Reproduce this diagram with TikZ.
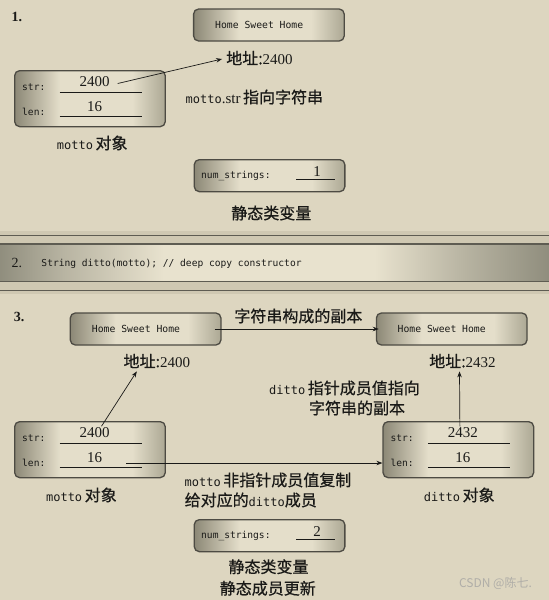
\documentclass[tikz,border=0pt]{standalone}
\usepackage{fontspec}
\setmainfont{Liberation Serif}
\setmonofont{DejaVu Sans Mono}
\newfontfamily\cjk[FakeBold=0.6]{Noto Sans CJK SC}
\newfontfamily\wmfont{Noto Sans CJK SC}
\usetikzlibrary{arrows.meta}
\definecolor{bg}{HTML}{DDD6C0}
\definecolor{strip}{HTML}{CFC8B2}
\definecolor{ink}{HTML}{1A1A18}
\definecolor{bxline}{HTML}{4D4B43}
\definecolor{bxdark}{HTML}{8C8876}
\definecolor{bxlight}{HTML}{E4DECA}
\definecolor{bxmid}{HTML}{ACA894}
\definecolor{bdark}{HTML}{8E8C7C}
\definecolor{bmid}{HTML}{B8B4A2}
\definecolor{blight}{HTML}{E8E2CE}
\definecolor{bandline}{HTML}{5E5C52}
\definecolor{wm}{HTML}{B0AEA8}
\pgfdeclarehorizontalshading{boxshade}{100bp}{color(0bp)=(bxdark); color(25bp)=(bxdark); color(40bp)=(bxlight); color(64bp)=(bxlight); color(75bp)=(bxmid); color(100bp)=(bxmid)}
\pgfdeclarehorizontalshading{bandshade}{100bp}{color(0bp)=(bdark); color(25bp)=(bdark); color(31bp)=(bmid); color(40bp)=(blight); color(59bp)=(blight); color(67bp)=(bmid); color(75bp)=(bdark); color(100bp)=(bdark)}
\newcommand\zh{\fontsize{16}{19}\selectfont\cjk}
\newcommand\tw{\fontsize{12}{14}\selectfont\ttfamily}
\newcommand\nm{\fontsize{15}{17}\selectfont\rmfamily}
\tikzset{
  objbox/.style={draw=bxline, line width=1.3pt, rounded corners=5pt, shade, shading=boxshade, inner sep=0pt, minimum width=150.6pt},
  mono/.style={font=\fontsize{9.6}{11}\selectfont\ttfamily, text=ink, inner sep=0pt},
  num/.style={font=\nm, text=ink, inner sep=0pt},
  txt/.style={text=ink, inner sep=0pt},
  rulel/.style={draw=ink, line width=1pt},
  arr/.style={draw=ink, line width=0.7pt, -{Stealth[length=6pt,width=4.5pt]}},
}
\newcommand\ObjBox[5]{%
  \begin{scope}[shift={(#2,#3)}]
    \node[objbox, minimum height=56pt, anchor=north west] (#1) at (0,0) {};
    \node[mono, anchor=west] (#1sl) at (8,17) {str:};
    \node[mono, anchor=west] (#1ll) at (8,42) {len:};
    \draw[rulel] (45.5,22) -- (128,22);
    \draw[rulel] (45.5,46.5) -- (128,46.5);
    \node[num] (#1s) at (80.5,11.5) {#4};
    \node[num] (#1l) at (80.5,37) {#5};
  \end{scope}}
\newcommand\NumBox[4]{%
  \begin{scope}[shift={(#2,#3)}]
    \node[objbox, minimum height=32pt, anchor=north west] (#1) at (0,0) {};
    \node[mono, anchor=west] (#1lab) at (7.4,17) {num\_strings:};
    \draw[rulel] (102.4,20) -- (141.8,20);
    \node[num] (#1v) at (123.4,12.5) {#4};
  \end{scope}}
\begin{document}
\begin{tikzpicture}[x=1pt,y=-1pt]
\useasboundingbox (0,0) rectangle (549,600);
\fill[bg] (0,0) rectangle (549,600);

% ---- part 1
\node[txt, font=\fontsize{14}{16}\selectfont\bfseries] (p1) at (17,17) {1.};
\node[objbox, minimum height=32pt] (hsh1) at (268.9,25) {};
\node[mono, font=\fontsize{9.75}{11}\selectfont\ttfamily] (hsh1t) at ([xshift=-9.7pt]hsh1.center) {Home Sweet Home};
\node[txt] (addr1) at (259.5,58) {{\zh 地址:}{\nm 2400}};
\ObjBox{mA}{14}{70}{2400}{16}
\node[txt] (desc1) at (254.4,97) {{\tw motto}{\nm .str} {\zh 指向字符串}};
\node[txt] (capA) at (92.2,143) {{\tw motto} {\zh 对象}};
\NumBox{numA}{193.6}{159}{1}
\node[txt] (stat1) at (271.3,213) {\zh 静态类变量};
\draw[arr] ([xshift=8pt,yshift=-2pt]mAs.east) -- ([xshift=-4pt,yshift=-1pt]addr1.west);

% ---- part 2 band
\fill[strip] (0,231) rectangle (549,244);
\fill[strip] (0,281.5) rectangle (549,294);
\draw[bandline, line width=1pt] (0,235.5) -- (549,235.5);
\draw[bandline, line width=1pt] (0,290.7) -- (549,290.7);
\path[shade, shading=bandshade, draw=bandline, line width=1.4pt] (-3,244) rectangle (552,281.5);
\node[txt, font=\fontsize{14}{16}\selectfont] (p2) at (17,263) {2.};
\node[mono, anchor=west] (code) at (41.3,264) {String ditto(motto); // deep copy constructor};

% ---- part 3
\node[txt, font=\fontsize{14}{16}\selectfont\bfseries] (p3) at (19,317) {3.};
\node[objbox, minimum height=32pt] (hshL) at (145.6,329) {};
\node[mono, font=\fontsize{9.75}{11}\selectfont\ttfamily] (hshLt) at ([xshift=-9.6pt]hshL.center) {Home Sweet Home};
\node[objbox, minimum height=32pt] (hshR) at (451.7,329) {};
\node[mono, font=\fontsize{9.75}{11}\selectfont\ttfamily] (hshRt) at ([xshift=-10pt]hshR.center) {Home Sweet Home};
\node[txt] (copy) at (298.4,316) {\zh 字符串构成的副本};
\draw[arr] ([xshift=-7pt]hshL.east) -- ([xshift=3pt]hshR.west);

\node[txt] (addrL) at (156.8,361) {{\zh 地址:}{\nm 2400}};
\node[txt] (addrR) at (462.5,361) {{\zh 地址:}{\nm 2432}};
\node[txt] (dd1) at (344.5,388) {{\tw ditto} {\zh 指针成员值指向}};
\node[txt] (dd2) at (357,408) {\zh 字符串的副本};

\ObjBox{mB}{14}{421}{2400}{16}
\ObjBox{dB}{382.4}{421}{2432}{16}

\draw[arr] ([xshift=7pt,yshift=1pt]mBs.north) -- ([xshift=-20pt,yshift=-3pt]addrL.south);
\draw[arr] ([xshift=-3pt,yshift=1pt]dBs.north) -- ([xshift=-3pt,yshift=-3pt]addrR.south);
\draw[arr] ([xshift=24pt]mBl.east |- dBll.west) -- (dB.west |- dBll.west);

\node[txt, anchor=west] (nc1) at (184.5,480) {{\tw motto} {\zh 非指针成员值复制}};
\node[txt, anchor=west] (nc2) at (184.5,500) {{\zh 给对应的}{\tw ditto}{\zh 成员}};
\node[txt] (capB) at (81.4,495) {{\tw motto} {\zh 对象}};
\node[txt] (capD) at (459.3,495) {{\tw ditto} {\zh 对象}};

\NumBox{numB}{193.6}{519}{2}
\node[txt] (stat2) at (268.5,566.7) {\zh 静态类变量};
\node[txt] (stat3) at (267.8,588.3) {\zh 静态成员更新};

\node[inner sep=0pt, text=wm, font=\fontsize{12}{14}\selectfont\wmfont] (wmk) at (495.5,583.3) {CSDN @陈七.};
\end{tikzpicture}
\end{document}
